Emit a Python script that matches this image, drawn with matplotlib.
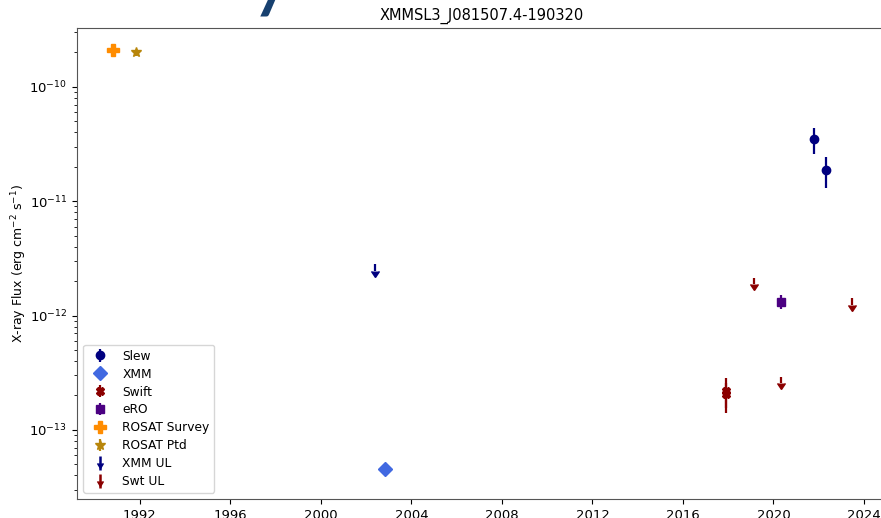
import numpy as np
import matplotlib
matplotlib.use("Agg")
import matplotlib.pyplot as plt
from matplotlib.lines import Line2D
from matplotlib.legend_handler import HandlerTuple
import matplotlib.markers as mmarkers

# detections (decimal year, flux, lower err, upper err)
slew_t = [2021.8, 2022.3]
slew_f = [3.5e-11, 1.88e-11]
slew_lo = [0.9e-11, 0.57e-11]
slew_hi = [0.87e-11, 0.56e-11]

xmm_t = [2002.85]
xmm_f = [4.5e-14]

swift_t = [2017.9, 2017.9]
swift_f = [2.2e-13, 2.05e-13]
swift_lo = [0.8e-13, 0.5e-13]
swift_hi = [0.66e-13, 0.5e-13]

ero_t = [2020.32]
ero_f = [1.30e-12]
ero_lo = [0.17e-12]
ero_hi = [0.20e-12]

rosat_svy_t = [1990.8]
rosat_svy_f = [2.11e-10]

rosat_ptd_t = [1991.82]
rosat_ptd_f = [2.0e-10]

# upper limits
xmm_ul_t = [2002.38]
xmm_ul_f = [2.8e-12]

swt_ul_t = [2019.15, 2020.35, 2023.45]
swt_ul_f = [2.15e-12, 2.92e-13, 1.41e-12]

year_ticks = [1992, 1996, 2000, 2004, 2008, 2012, 2016, 2020, 2024]

plt.rcParams['font.family'] = ['DejaVu Sans']
fig = plt.figure(figsize=(8.81, 5.18), dpi=100)
W, H = 881, 518
ax = fig.add_axes([77 / W, 1 - 499 / H, (900 - 77) / W, (499 - 28) / H])

ax.errorbar(slew_t, slew_f, yerr=[slew_lo, slew_hi], fmt='o', color='navy',
            ms=6, elinewidth=1.6, label='Slew')
ax.errorbar(xmm_t, xmm_f, fmt='D', color='royalblue', ms=7, label='XMM')
ax.errorbar(swift_t, swift_f, yerr=[swift_lo, swift_hi], fmt='X', color='darkred',
            ms=6, elinewidth=1.6, label='Swift')
ax.errorbar(ero_t, ero_f, yerr=[ero_lo, ero_hi], fmt='s', color='indigo',
            ms=6, elinewidth=1.6, label='eRO')
ax.errorbar(rosat_svy_t, rosat_svy_f, yerr=[[0.1e-10], [0.1e-10]], fmt='P',
            color='darkorange', ms=8, elinewidth=1.6, label='ROSAT Survey')
ax.errorbar(rosat_ptd_t, rosat_ptd_f, yerr=[[0.15e-10], [0.1e-10]], fmt='*',
            color='darkgoldenrod', ms=7, elinewidth=1.6, label='ROSAT Ptd')


def upper_limits(t, f, col):
    f = np.array(f)
    eb = ax.errorbar(t, f, yerr=0.12 * f, uplims=True, fmt='none',
                     ecolor=col, elinewidth=1.6, capsize=3)
    # keep only the down arrows, drop the flat caps
    for cl in eb[1]:
        if cl.get_marker() == '_':
            cl.set_visible(False)
        cl.set_markerfacecolor(col)
        cl.set_markeredgecolor(col)
    # legend proxy: stem + arrow head
    stem = Line2D([], [], color=col, marker='|', ms=10, mew=1.8, ls='none')
    head = Line2D([], [], color=col, marker=mmarkers.CARETDOWNBASE, ms=5,
                  ls='none')
    return (stem, head)


ul1 = upper_limits(xmm_ul_t, xmm_ul_f, 'navy')
ul2 = upper_limits(swt_ul_t, swt_ul_f, 'darkred')

ax.set_yscale('log')
ax.set_ylim(10 ** -13.605, 10 ** -9.485)
ax.set_xlim(1989.22, 2024.0 + (900 - 864) / 22.63)
ax.set_xticks(year_ticks)
ax.set_xticklabels([str(y) for y in year_ticks])
ax.tick_params(labelsize=9.5)
for s in ax.spines.values():
    s.set_color('#555555')
ax.set_ylabel(r'X-ray Flux (erg cm$^{-2}$ s$^{-1}$)', fontsize=9)
ax.yaxis.set_label_coords(-(77 - 29) / 823, 0.5)
ax.set_title('XMMSL3_J081507.4-190320', fontsize=10.5, x=(482 - 77) / 823)

handles, labels = ax.get_legend_handles_labels()
handles += [ul1, ul2]
labels += ['XMM UL', 'Swt UL']
ax.legend(handles, labels, loc='lower left', fontsize=8.8, handletextpad=0.8,
          labelspacing=0.4, handler_map={tuple: HandlerTuple(ndivide=1)})

# fragment of blue heading cut off at the top of the image
fig.text(271 / W, 1.0, 'y', fontsize=64, color='#17406f', ha='center',
         va='baseline', family=['Lato', 'DejaVu Sans'], fontweight='normal')

fig.savefig('out.png', dpi=100)
